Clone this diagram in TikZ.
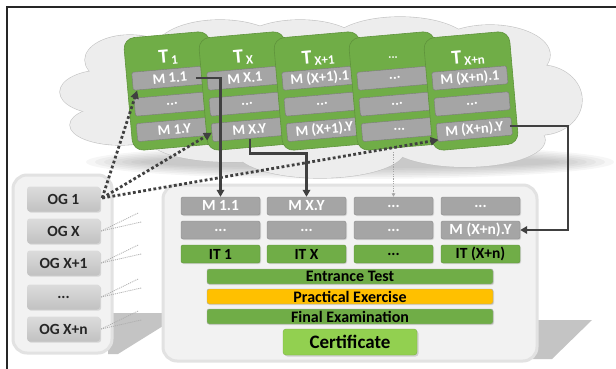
\documentclass[tikz,border=0pt]{standalone}
\usepackage{fontspec}
\setmainfont{Carlito}
\usetikzlibrary{arrows.meta,shadows,calc}
\definecolor{cardgreen}{HTML}{70AD47}
\definecolor{bargray}{HTML}{A5A5A5}
\definecolor{certgreen}{HTML}{92D050}
\definecolor{practorange}{HTML}{FFC000}
\definecolor{linedark}{HTML}{404040}
\definecolor{cloudfill}{HTML}{EDEDED}
\definecolor{cloudline}{HTML}{C4C4C4}
\definecolor{panelfill}{HTML}{F2F2F2}
\definecolor{panelline}{HTML}{E2E2E2}
\definecolor{shadowgray}{HTML}{C4C4C4}
\newcommand\mytitle[1]{{\fontsize{20}{20}\selectfont T}\hspace{2.5pt}{\fontsize{13}{13}\selectfont\raisebox{-2pt}{#1}}}
\tikzset{
  card/.style={rounded corners=11pt, fill=cardgreen, draw=cardgreen!85!black, line width=0.6pt, minimum width=86pt, minimum height=113pt},
  cardtitle/.style={text=white, font=\bfseries, inner sep=0pt},
  cbar/.style={fill=bargray, draw=bargray!75!black, line width=0.4pt, minimum width=75pt, minimum height=18pt, rounded corners=1.5pt, text=white, font=\bfseries\fontsize{14.5}{14.5}\selectfont, inner sep=0pt},
  panel/.style={fill=panelfill, draw=panelline, line width=3pt, rounded corners=14pt},
  ogbox/.style={top color=gray!28, bottom color=gray!48, draw=none, rounded corners=3pt, minimum width=73pt, minimum height=25pt, text=black!85, font=\bfseries\fontsize{15.5}{15.5}\selectfont, inner sep=0pt, drop shadow={shadow xshift=1.2pt, shadow yshift=-1.2pt, opacity=0.25}},
  mbox/.style={fill=bargray, draw=bargray!85!black, line width=0.4pt, rounded corners=2pt, minimum width=79pt, minimum height=18pt, text=white, font=\bfseries\fontsize{15.5}{15.5}\selectfont, inner sep=0pt, drop shadow={shadow xshift=1pt, shadow yshift=-1pt, opacity=0.25}},
  itbox/.style={fill=cardgreen, draw=cardgreen!85!black, line width=0.4pt, rounded corners=2pt, minimum width=79pt, minimum height=18pt, text=black, font=\bfseries\fontsize{15.5}{15.5}\selectfont, inner sep=0pt, drop shadow={shadow xshift=1pt, shadow yshift=-1pt, opacity=0.25}},
  widebar/.style={draw=black!35, line width=0.4pt, rounded corners=2pt, minimum width=286pt, minimum height=15pt, text=black, font=\bfseries\fontsize{16}{16}\selectfont, inner sep=0pt, drop shadow={shadow xshift=1pt, shadow yshift=-1pt, opacity=0.25}},
  certbox/.style={fill=certgreen, draw=certgreen!85!black, line width=0.4pt, rounded corners=3pt, minimum width=134pt, minimum height=26pt, text=black, font=\bfseries\fontsize{19}{19}\selectfont, inner sep=0pt, drop shadow={shadow xshift=1.5pt, shadow yshift=-1.5pt, opacity=0.3}},
  solidarr/.style={draw=linedark, line width=2.4pt, -{Triangle[length=7pt,width=7.5pt]}},
  dotarr/.style={draw=linedark, line width=2.8pt, dash pattern=on 2.8pt off 2.4pt, -{Triangle[length=8pt,width=8pt]}},
  thindot/.style={draw=gray!70, line width=0.8pt, dash pattern=on 1.2pt off 1.2pt, -{Triangle[length=3.5pt,width=3.5pt]}},
  faint/.style={draw=gray!65, line width=0.8pt, dash pattern=on 1pt off 1pt}
}
\newcommand\mytcard[6]{%
\begin{scope}[shift={(#2,-91)}, rotate=5, transform shape]
\node[card] (#1) at (0,0) {};
\node[cardtitle] (#1t) at (0,33.5) {#3};
\node[cbar] (#1r1) at (0,13) {#4};
\node[cbar] (#1r2) at (0,-13) {#5};
\node[cbar] (#1r3) at (0,-38.5) {#6};
\end{scope}}
\begin{document}
\begin{tikzpicture}[x=1pt,y=1pt]
\useasboundingbox (0,0) rectangle (616,-369);
\fill[white] (0,0) rectangle (616,-369);
% cloud shadow
\foreach \k in {0,...,6}{
  \fill[gray, opacity=0.07] (350,-162) ellipse ({(264-9*\k)*1pt} and {(17-1.8*\k)*1pt});
}
% cloud
\foreach \cx/\cy/\rx/\ry in {130/60/45/25, 105/92/45/22, 120/125/50/20, 220/50/65/30, 300/45/60/25, 400/45/70/28, 490/55/60/30, 540/100/42/35, 330/100/220/55, 230/140/80/22, 320/150/85/28, 465/140/80/27}{
  \draw[cloudline, line width=1.2pt] (\cx,-\cy) ellipse ({\rx*1pt} and {\ry*1pt});
}
\foreach \cx/\cy/\rx/\ry in {130/60/45/25, 105/92/45/22, 120/125/50/20, 220/50/65/30, 300/45/60/25, 400/45/70/28, 490/55/60/30, 540/100/42/35, 330/100/220/55, 230/140/80/22, 320/150/85/28, 465/140/80/27}{
  \fill[cloudfill] (\cx,-\cy) ellipse ({\rx*1pt} and {\ry*1pt});
}
% panel shadows
\fill[shadowgray] (108,-313) -- (163,-313) -- (163,-326) -- (118,-354) -- (108,-354) -- cycle;
\fill[shadowgray] (530,-320) -- (592,-320) -- (552,-359) -- (530,-359) -- cycle;
% panels
\node[panel, minimum width=99pt, minimum height=178pt] (leftpanel) at (62.5,-264) {};
\node[panel, minimum width=374pt, minimum height=176pt] (mainpanel) at (350,-273) {};
% OG boxes
\node[ogbox] (og1) at (63.5,-199) {OG 1};
\node[ogbox] (ogX) at (63.5,-231) {OG X};
\node[ogbox] (ogX1) at (63.5,-263) {OG X+1};
\node[ogbox] (ogd) at (63.5,-297) {...};
\node[ogbox] (ogXn) at (63.5,-329) {OG X+n};
\foreach \n in {ogX,ogX1,ogd,ogXn}{
  \draw[faint] ([xshift=1pt]\n.east) -- ++(37,18);
  \draw[faint] ([xshift=1pt]\n.east) -- ++(40,9);
}
% bottom grid
\node[mbox] (bM11) at (220.5,-206) {M 1.1};
\node[mbox] (bMXY) at (306.5,-206) {M X.Y};
\node[mbox] (bMd) at (393.5,-206) {...};
\node[mbox] (bMe) at (480.5,-206) {...};
\node[mbox] (bR2a) at (220.5,-230) {...};
\node[mbox] (bR2b) at (306.5,-230) {...};
\node[mbox] (bR2c) at (393.5,-230) {...};
\node[mbox] (bMXnY) at (480.5,-230) {M (X+n).Y};
\node[itbox] (it1) at (220.5,-254) {IT 1};
\node[itbox] (itX) at (306.5,-254) {IT X};
\node[itbox] (itd) at (393.5,-254) {...};
\node[itbox] (itXn) at (480.5,-254) {IT (X+n)};
\node[widebar, fill=cardgreen] (entrance) at (350,-276.5) {Entrance Test};
\node[widebar, fill=practorange] (practical) at (350,-296.5) {Practical Exercise};
\node[widebar, fill=cardgreen] (final) at (350,-316.5) {Final Examination};
\node[certbox] (cert) at (350,-342) {Certificate};
% topic cards
\mytcard{c1}{171}{\mytitle{1}}{M 1.1}{...}{M 1.Y}
\mytcard{cX}{246}{\mytitle{X}}{M X.1}{...}{M X.Y}
\mytcard{cY}{321}{\mytitle{X+1}}{M (X+1).1}{...}{M (X+1).Y}
\mytcard{cD}{396}{{\fontsize{12}{12}\selectfont ...}}{...}{...}{...}
\mytcard{cN}{471}{\mytitle{X+n}}{M (X+n).1}{...}{M (X+n).Y}
% connectors
\draw[solidarr] ([xshift=26pt]c1r1.center) -| (bM11.north);
\draw[solidarr] (cXr3.south) -- ++(0,-15) -| (bMXY.north);
\draw[solidarr] ([xshift=-2pt]cNr3.east) -| ([xshift=48pt]bMXnY.east) -- (bMXnY.east);
\coordinate (dsrc) at (393.5,-152);
\draw[thindot] (dsrc) -- (bMd.north);
\draw[dotarr] ([xshift=2pt,yshift=1pt]og1.east) -- ([xshift=4pt]c1r1.south west);
\draw[dotarr] ([xshift=2pt,yshift=1pt]og1.east) -- (cXr3.west);
\draw[dotarr] ([xshift=2pt,yshift=1pt]og1.east) -- ([xshift=1pt,yshift=2pt]cNr3.south west);
% frame
\draw[black!85, line width=1.5pt] (7,-369) -- (7,-7) -- (616,-7);
\end{tikzpicture}
\end{document}
